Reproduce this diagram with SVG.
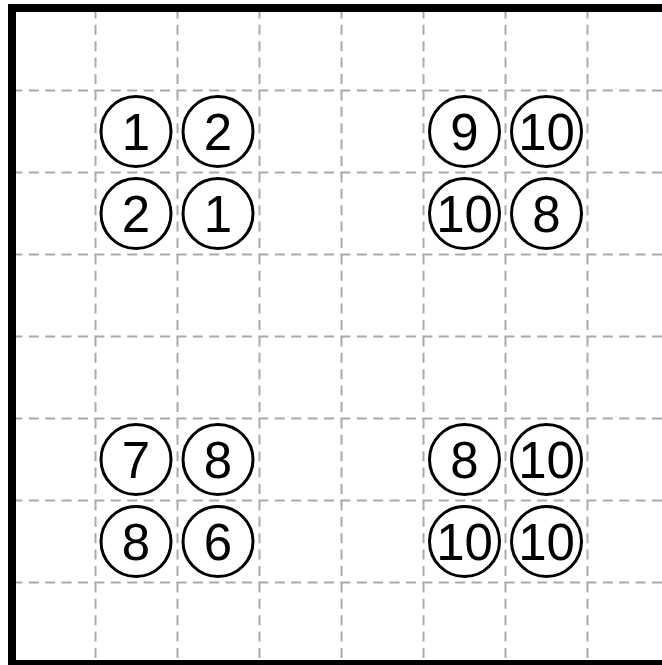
<svg xmlns="http://www.w3.org/2000/svg" width="662" height="665" viewBox="0 0 662 665">
<style>
.grid line{stroke:#aaaaaa;stroke-width:2;stroke-dasharray:10 6.4;stroke-dashoffset:3.6;}
.c circle{fill:#ffffff;stroke:#000000;stroke-width:3;}
.c text{font-family:"Liberation Sans",Arial,sans-serif;font-size:51px;fill:#000000;text-anchor:middle;}
</style>
<rect width="662" height="665" fill="#ffffff"/>
<g class="grid" id="grid">
<line x1="95.5" y1="12" x2="95.5" y2="660"/>
<line x1="177.5" y1="12" x2="177.5" y2="660"/>
<line x1="259.5" y1="12" x2="259.5" y2="660"/>
<line x1="341.5" y1="12" x2="341.5" y2="660"/>
<line x1="423.5" y1="12" x2="423.5" y2="660"/>
<line x1="505.5" y1="12" x2="505.5" y2="660"/>
<line x1="587.5" y1="12" x2="587.5" y2="660"/>
<line x1="16" y1="90.5" x2="662" y2="90.5"/>
<line x1="16" y1="172.5" x2="662" y2="172.5"/>
<line x1="16" y1="254.5" x2="662" y2="254.5"/>
<line x1="16" y1="336.5" x2="662" y2="336.5"/>
<line x1="16" y1="418.5" x2="662" y2="418.5"/>
<line x1="16" y1="500.5" x2="662" y2="500.5"/>
<line x1="16" y1="582.5" x2="662" y2="582.5"/>
</g>
<g id="border" fill="#000000">
<rect x="8" y="4" width="654" height="8"/>
<rect x="8" y="4" width="8" height="661"/>
<rect x="8" y="660" width="654" height="5"/>
</g>
<g class="c" id="n1"><circle cx="136" cy="131.5" r="35"/><text x="136" y="149.5">1</text></g>
<g class="c" id="n2"><circle cx="218" cy="131.5" r="35"/><text x="218" y="149.5">2</text></g>
<g class="c" id="n3"><circle cx="136" cy="213.5" r="35"/><text x="136" y="231.5">2</text></g>
<g class="c" id="n4"><circle cx="218" cy="213.5" r="35"/><text x="218" y="231.5">1</text></g>
<g class="c" id="n5"><circle cx="464.5" cy="131.5" r="35"/><text x="464.5" y="149.5">9</text></g>
<g class="c" id="n6"><circle cx="546.5" cy="131.5" r="35"/><text x="546.5" y="149.5">10</text></g>
<g class="c" id="n7"><circle cx="464.5" cy="213.5" r="35"/><text x="464.5" y="231.5">10</text></g>
<g class="c" id="n8"><circle cx="546.5" cy="213.5" r="35"/><text x="546.5" y="231.5">8</text></g>
<g class="c" id="n9"><circle cx="136" cy="459.5" r="35"/><text x="136" y="477.5">7</text></g>
<g class="c" id="n10"><circle cx="218" cy="459.5" r="35"/><text x="218" y="477.5">8</text></g>
<g class="c" id="n11"><circle cx="136" cy="541.5" r="35"/><text x="136" y="559.5">8</text></g>
<g class="c" id="n12"><circle cx="218" cy="541.5" r="35"/><text x="218" y="559.5">6</text></g>
<g class="c" id="n13"><circle cx="464.5" cy="459.5" r="35"/><text x="464.5" y="477.5">8</text></g>
<g class="c" id="n14"><circle cx="546.5" cy="459.5" r="35"/><text x="546.5" y="477.5">10</text></g>
<g class="c" id="n15"><circle cx="464.5" cy="541.5" r="35"/><text x="464.5" y="559.5">10</text></g>
<g class="c" id="n16"><circle cx="546.5" cy="541.5" r="35"/><text x="546.5" y="559.5">10</text></g>
</svg>
